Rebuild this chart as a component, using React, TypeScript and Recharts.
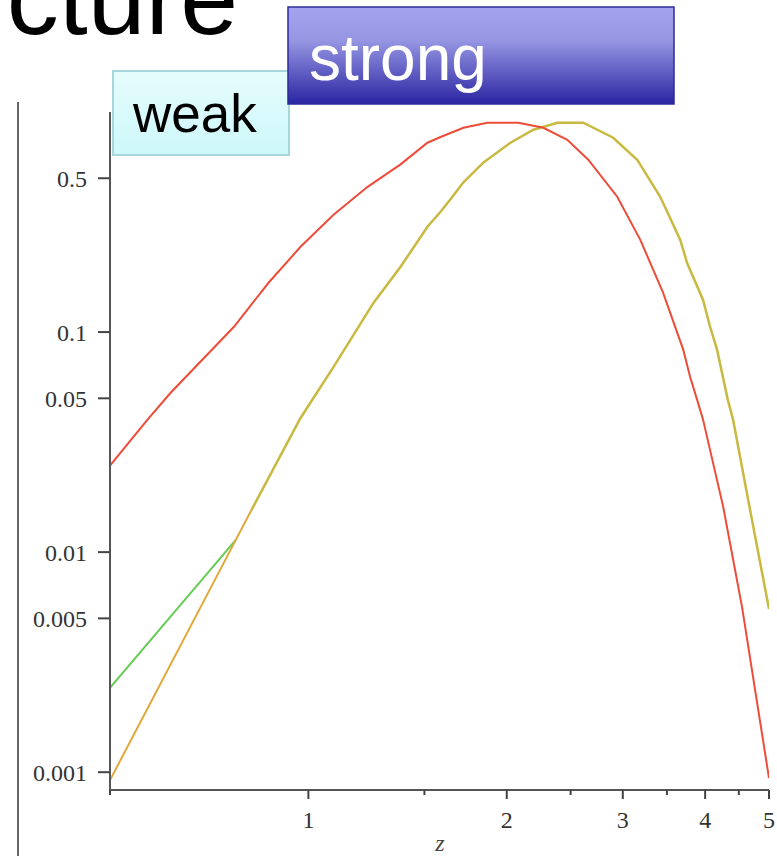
import React from 'react';
import { LineChart, Line, XAxis, YAxis } from 'recharts';

// Red curve (weak)
const redX = [0.5, 0.538, 0.573, 0.618, 0.771, 0.87, 0.973, 1.092, 1.23, 1.38, 1.516, 1.587, 1.719, 1.869, 2.083, 2.273, 2.471, 2.659, 2.942, 3.188, 3.453, 3.705, 3.795, 3.89, 3.971, 4.26, 4.55, 5.0];
const redY = [0.0247, 0.0324, 0.0407, 0.053, 0.1057, 0.1675, 0.244, 0.341, 0.457, 0.578, 0.725, 0.77, 0.848, 0.894, 0.894, 0.848, 0.748, 0.607, 0.412, 0.263, 0.151, 0.0832, 0.0627, 0.0492, 0.04, 0.0161, 0.00564, 0.00094];

// Olive curve (strong)
const oliveX = [0.82, 0.847, 0.973, 1.092, 1.256, 1.38, 1.516, 1.587, 1.643, 1.719, 1.844, 2.026, 2.195, 2.387, 2.613, 2.901, 3.155, 3.419, 3.666, 3.756, 3.971, 4.07, 4.17, 4.33, 4.41, 4.68, 5.0];
const oliveY = [0.01557, 0.0187, 0.0407, 0.0695, 0.136, 0.198, 0.301, 0.352, 0.401, 0.479, 0.59, 0.725, 0.831, 0.894, 0.894, 0.764, 0.607, 0.412, 0.263, 0.206, 0.14, 0.1057, 0.0832, 0.0492, 0.04, 0.01556, 0.00552];

// Orange low-z branch
const orangeX = [0.5, 0.776, 0.82];
const orangeY = [0.00092, 0.01137, 0.01557];

// Green low-z branch
const greenX = [0.5, 0.776];
const greenY = [0.00242, 0.01137];

const xMajor = [1, 2, 3, 4, 5];
const xTicks = [0.5, 1, 1.5, 2, 2.5, 3, 3.5, 4, 4.5, 5];
const yTicks = [0.001, 0.005, 0.01, 0.05, 0.1, 0.5];

const toPts = (xs: number[], ys: number[]) => xs.map((x, i) => ({ x, y: ys[i] }));

const redData = toPts(redX, redY);
const oliveData = toPts(oliveX, oliveY);
const orangeData = toPts(orangeX, orangeY);
const greenData = toPts(greenX, greenY);

const serif = "'Liberation Serif', 'Times New Roman', serif";
const sans = "'Liberation Sans', Arial, Helvetica, sans-serif";

const XTick = (props: any) => {
  const { x, y, payload } = props;
  const v = payload.value;
  const major = xMajor.includes(v);
  return (
    <g>
      <line x1={x} x2={x} y1={y} y2={y + (major ? 9 : 5)} stroke="#444" strokeWidth={2} />
      {major && (
        <text x={x} y={y + 38} textAnchor="middle" fontFamily={serif} fontSize={24} fill="#333">
          {v}
        </text>
      )}
    </g>
  );
};

export default function App() {
  return (
    <div style={{ position: 'absolute', left: 0, top: 0, width: 777, height: 856, background: '#fff' }}>
      <LineChart
        width={777}
        height={856}
        margin={{ top: 112, right: 8, bottom: 26, left: 10 }}
      >
        <XAxis
          dataKey="x"
          type="number"
          scale="log"
          domain={[0.5, 5]}
          allowDataOverflow
          ticks={xTicks}
          interval={0}
          height={40}
          tickSize={0}
          tickMargin={0}
          tickLine={false}
          axisLine={{ stroke: '#555', strokeWidth: 2 }}
          tick={<XTick />}
        />
        <YAxis
          dataKey="y"
          type="number"
          scale="log"
          domain={[0.00083, 1]}
          allowDataOverflow
          ticks={yTicks}
          interval={0}
          width={100}
          tickSize={12}
          tickMargin={11}
          tickLine={{ stroke: '#444', strokeWidth: 2 }}
          axisLine={{ stroke: '#555', strokeWidth: 2 }}
          tick={{ fontFamily: serif, fontSize: 24, fill: '#333' }}
          tickFormatter={(v: number) => String(v)}
        />
        <Line data={greenData} dataKey="y" type="linear" stroke="#66cc55" strokeWidth={2} dot={false} isAnimationActive={false} />
        <Line data={orangeData} dataKey="y" type="linear" stroke="#e0a838" strokeWidth={2} dot={false} isAnimationActive={false} />
        <Line data={oliveData} dataKey="y" type="linear" stroke="#c9b940" strokeWidth={2.5} dot={false} isAnimationActive={false} />
        <Line data={redData} dataKey="y" type="linear" stroke="#ee4c38" strokeWidth={2} dot={false} isAnimationActive={false} />
      </LineChart>
      <svg
        width={777}
        height={856}
        style={{ position: 'absolute', left: 0, top: 0, pointerEvents: 'none' }}
      >
        <defs>
          <linearGradient id="weakGrad" x1="0" y1="0" x2="0" y2="1">
            <stop offset="0%" stopColor="#e6fcfc" />
            <stop offset="100%" stopColor="#cdf8fb" />
          </linearGradient>
          <linearGradient id="strongGrad" x1="0" y1="0" x2="0" y2="1">
            <stop offset="0%" stopColor="#a4a4ee" />
            <stop offset="35%" stopColor="#9595e2" />
            <stop offset="100%" stopColor="#2a25a2" />
          </linearGradient>
        </defs>
        <text x={238} y={34} textAnchor="end" fontFamily={sans} fontSize={104} fill="#000">cture</text>
        <line x1={18} x2={18} y1={102} y2={856} stroke="#666" strokeWidth={2} />
        <rect x={113} y={71} width={176} height={84} fill="url(#weakGrad)" stroke="#a8d6da" strokeWidth={2} />
        <text x={133} y={132} fontFamily={sans} fontSize={53} fill="#000">weak</text>
        <rect x={288} y={7} width={386} height={97} fill="url(#strongGrad)" stroke="#2c2c99" strokeWidth={1.5} />
        <text x={309} y={80} fontFamily={sans} fontSize={64} fill="#fff">strong</text>
        <text x={440} y={851} textAnchor="middle" fontFamily={serif} fontStyle="italic" fontSize={24} fill="#444">z</text>
      </svg>
    </div>
  );
}
